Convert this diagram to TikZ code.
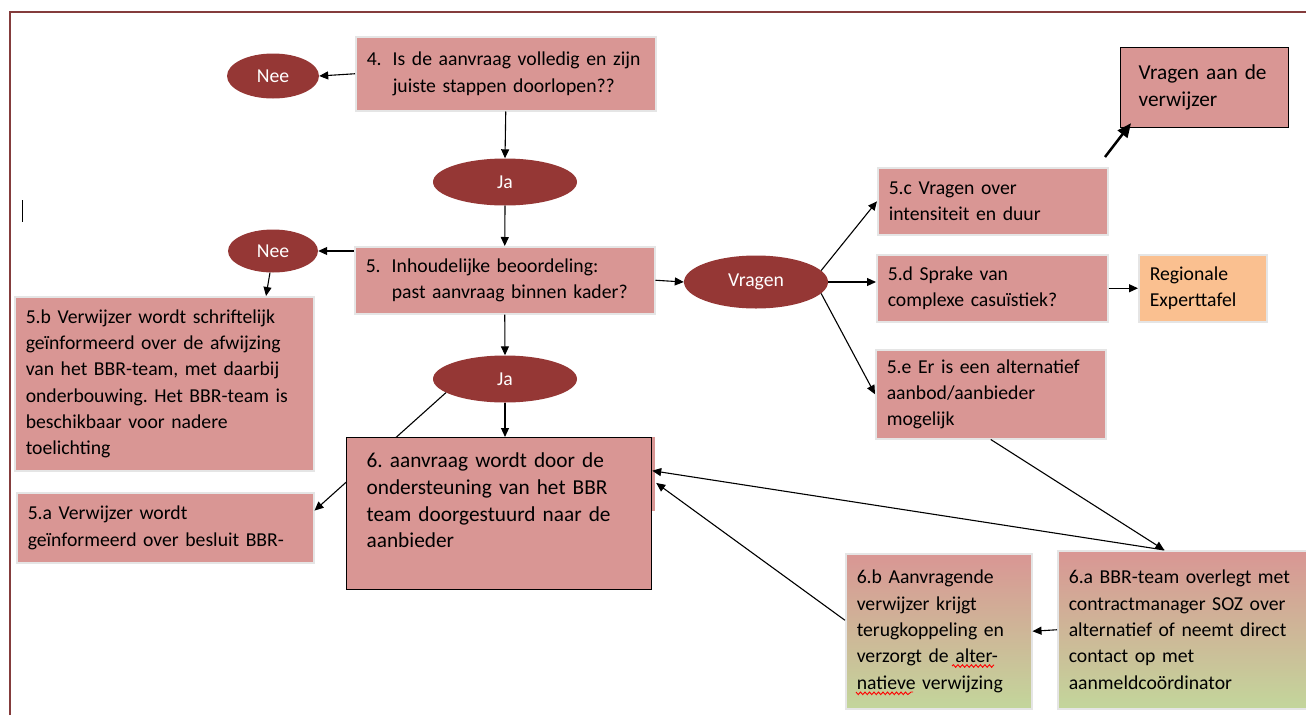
\documentclass[tikz,border=0pt]{standalone}
\usepackage{fontspec}
\setmainfont{Carlito}
\usetikzlibrary{arrows.meta,calc,positioning,shapes.geometric,decorations.pathmorphing}

\definecolor{roze}{HTML}{D99694}
\definecolor{donkerrood}{HTML}{953735}
\definecolor{oranje}{HTML}{FAC090}
\definecolor{groen}{HTML}{C3D69B}
\definecolor{rand}{HTML}{843C3C}

\newcommand{\gewoon}{\fontsize{19.7}{26.3}\selectfont}
\newcommand{\groot}{\fontsize{21.3}{26.7}\selectfont}
\frenchspacing

\begin{document}
\begin{tikzpicture}[x=1pt,y=-1pt]

\useasboundingbox (0,0) rectangle (1306,715);

% set styles here
\tikzstyle{kader}=[rectangle, fill=roze, draw=black!10, line width=1.5, anchor=north west,
  align=left, inner xsep=11, inner ysep=0, font=\gewoon]
\tikzstyle{keuze}=[ellipse, fill=donkerrood, text=white, inner sep=0, font=\gewoon]
\tikzstyle{pijl}=[-{Triangle[length=9,width=8]}, line width=1.1]

% page edge and cursor
\draw[rand, line width=2] (10,715) -- (10,12) -- (1306,12);
\draw[line width=1] (22,200) -- (22,222);

% step 4 and 5
\node (b4) at (355,36) [kader, text width=278, minimum height=74]
  {\makebox[26pt][l]{4.}Is de aanvraag volledig en zijn\\\hspace*{26pt}juiste stappen doorlopen??};
\node (nee1) at (273,76) [keuze, minimum width=92, minimum height=45] {Nee};
\node (ja1) at (505,182) [keuze, minimum width=144, minimum height=47] {Ja};
\node (b5) at (354,246) [kader, text width=278, minimum height=67]
  {\makebox[26pt][l]{5.}Inhoudelijke beoordeling:\\\hspace*{26pt}past aanvraag binnen kader?};
\node (nee2) at (273,251) [keuze, minimum width=90, minimum height=43] {Nee};
\node (b5b) at (14,296) [kader, text width=277, minimum height=174]
  {5.b Verwijzer wordt schriftelijk\\geïnformeerd over de afwijzing\\van het BBR-team, met daarbij\\onderbouwing. Het BBR-team is\\beschikbaar voor nadere\\toelichting};
\node (b5a) at (16,492) [kader, text width=275, minimum height=70]
  {5.a Verwijzer wordt\\geïnformeerd over besluit BBR-};
\node (ja2) at (505,379) [keuze, minimum width=144, minimum height=47] {Ja};

% questions branch
\node (vragen) at (756,282) [keuze, minimum width=144, minimum height=53] {Vragen};
\node (b5c) at (877,167) [kader, text width=208, minimum height=67] {5.c Vragen over\\intensiteit en duur};
\node (b5d) at (876,254) [kader, text width=209, minimum height=67] {5.d Sprake van\\complexe casuïstiek?};
\node (b5e) at (875,349) [kader, text width=208, minimum height=89] {5.e Er is een alternatief\\aanbod/aanbieder\\mogelijk};
\node (verw) at (1120,47) [kader, draw=black, line width=1.2, inner xsep=18, text width=132,
  minimum height=80, font=\groot] {Vragen aan de\\verwijzer};
\node (regio) at (1138,254) [kader, fill=oranje, text width=106, minimum height=67] {Regionale\\Experttafel};
\node (b6a) at (1057,550) [kader, top color=roze, bottom color=groen, text width=227, minimum height=158]
  {6.a BBR-team overlegt met\\contractmanager SOZ over\\alternatief of neemt direct\\contact op met\\aanmeldcoördinator};
\node (b6b) at (845,553) [kader, top color=roze, bottom color=groen, text width=164, minimum height=155]
  {6.b Aanvragende\\verwijzer krijgt\\terugkoppeling en\\verzorgt de alter-\\natieve verwijzing};

% line behind step 6
\draw[pijl] (ja2.193) -- ($(b5a.north east)!0.26!(b5a.south east)$);

% step 6
\node (b6achter) at (354,436) [kader, draw=none, text width=278, minimum height=74] {};
\node (b6) at (346,437) [kader, draw=black, line width=1.2, inner xsep=20, text width=265,
  minimum height=152, font=\groot]
  {6. aanvraag wordt door de\\ondersteuning van het BBR\\team doorgestuurd naar de\\aanbieder\\\mbox{}};

\draw[pijl] (b4.west) -- (nee1.east);
\draw[pijl] (b4.south) -- (ja1.north);
\draw[pijl] (ja1.south) -- (b5.north);
\draw[pijl] (b5.west |- nee2) -- (nee2.east);
\draw[pijl] (nee2.262) -- (b5b.north -| nee2.252);
\draw[pijl] (b5.south) -- (ja2.north);
\draw[pijl] (ja2.south) -- (ja2.south |- b6.north);
\draw[pijl] (b5.east) -- (vragen.west);
\draw[pijl] (vragen.10) -- (b5c.west);
\draw[pijl] (vragen.east) -- (vragen.east -| b5d.west);
\draw[pijl] (vragen.-10) -- (b5e.west);
\draw[pijl] (b5d.east) -- (regio.west);

\coordinate (vstart) at (1105,157);
\draw[-{Triangle[length=14,width=12]}, line width=2.5] (vstart) -- ([xshift=11pt,yshift=5pt]verw.south west);

\draw[pijl] (b5e.south) -- ([xshift=-18pt]b6a.north);
\draw[pijl] ([xshift=-18pt]b6a.north) -- ($(b6.north east)!0.22!(b6.south east)$);
\draw[pijl] (b6a.west) -- (b6b.east);
\draw[pijl] ($(b6b.north west)!0.43!(b6b.south west)$) -- ([xshift=4pt]$(b6.north east)!0.30!(b6.south east)$);

% spelling marks
\draw[red, line width=0.9, decorate, decoration={snake, amplitude=1.3, segment length=4.5}]
  (952,666) -- (992,666) (856,692) -- (913,692);

\end{tikzpicture}
\end{document}
